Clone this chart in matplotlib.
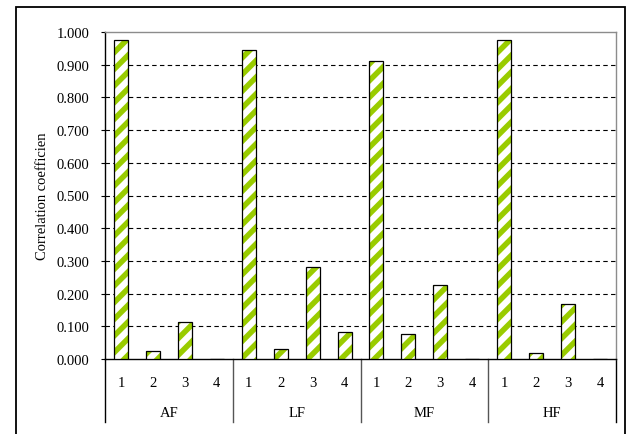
import matplotlib
matplotlib.use("Agg")
import matplotlib.pyplot as plt
import matplotlib.transforms as mtransforms
from matplotlib.patches import Rectangle

# Correlation coefficients per frequency band and component
groups = ["AF", "LF", "MF", "HF"]
components = ["1", "2", "3", "4"]
af_values = [0.977, 0.024, 0.114, 0.0]
lf_values = [0.946, 0.031, 0.281, 0.083]
mf_values = [0.912, 0.077, 0.226, 0.0]
hf_values = [0.976, 0.017, 0.167, 0.0]
y_ticks = [0.0, 0.1, 0.2, 0.3, 0.4, 0.5, 0.6, 0.7, 0.8, 0.9, 1.0]
y_label = "Correlation coefficien"

green = "#99CC00"
plt.rcParams["font.family"] = ["Liberation Serif", "DejaVu Serif"]
plt.rcParams["hatch.linewidth"] = 4.0

fig = plt.figure(figsize=(6.32, 4.35), dpi=100)
W, H = 632, 435
ax = fig.add_axes([105 / W, 1 - 360 / H, (616 - 105) / W, (360 - 33) / H])

values = af_values + lf_values + mf_values + hf_values
xs = list(range(len(values)))
bar_w = 0.44

# hatched fill, then black outline on top
ax.bar(xs, values, width=bar_w, color="white", edgecolor=green, hatch="//",
       linewidth=0, zorder=3)
ax.bar(xs, values, width=bar_w, color="none", edgecolor="black",
       linewidth=0.9, zorder=4)

ax.set_xlim(-0.5, len(values) - 0.5)
ax.set_ylim(0, 1.0)
ax.set_yticks(y_ticks)
ax.set_yticklabels([f"{t:.3f}" for t in y_ticks], fontsize=10.5)
for t in y_ticks[1:-1]:
    ax.axhline(t, color="black", lw=0.8, linestyle=(0, (4.0, 3.0)), zorder=1)

ax.tick_params(axis="y", direction="out", length=3, width=0.8, pad=8)
ax.set_xticks([])
for side in ["top", "right"]:
    ax.spines[side].set_color("#8c8c8c")
    ax.spines[side].set_linewidth(1.0)
for side in ["left", "bottom"]:
    ax.spines[side].set_color("black")
    ax.spines[side].set_linewidth(1.0)

ax.set_ylabel(y_label, fontsize=10.5, labelpad=6)

# two-level category axis
trans = mtransforms.blended_transform_factory(ax.transData, ax.transAxes)
ax_h = 360 - 33
sep_bottom = -(423 - 360) / ax_h
num_y = -(384 - 360) / ax_h
grp_y = -(414 - 360) / ax_h
n_comp = len(components)
for g, name in enumerate(groups):
    for c, comp in enumerate(components):
        ax.text(g * n_comp + c, num_y, comp, transform=trans, ha="center",
                va="center", fontsize=10.5)
    ax.text(g * n_comp + (n_comp - 1) / 2, grp_y, name, transform=trans,
            ha="center", va="center", fontsize=10.5)
for k in range(len(groups) + 1):
    xsep = k * n_comp - 0.5
    col = "black" if k in (0, len(groups)) else "#555555"
    ax.plot([xsep, xsep], [0, sep_bottom], transform=trans, color=col,
            lw=1.0, clip_on=False)

# outer chart frame
frame = Rectangle((16 / W, -0.05), (625 - 16) / W, (1 - 8 / H) + 0.05,
                  transform=fig.transFigure, fill=False, edgecolor="black",
                  linewidth=1.3, clip_on=False)
fig.patches.append(frame)

fig.savefig("out.png", dpi=100)
